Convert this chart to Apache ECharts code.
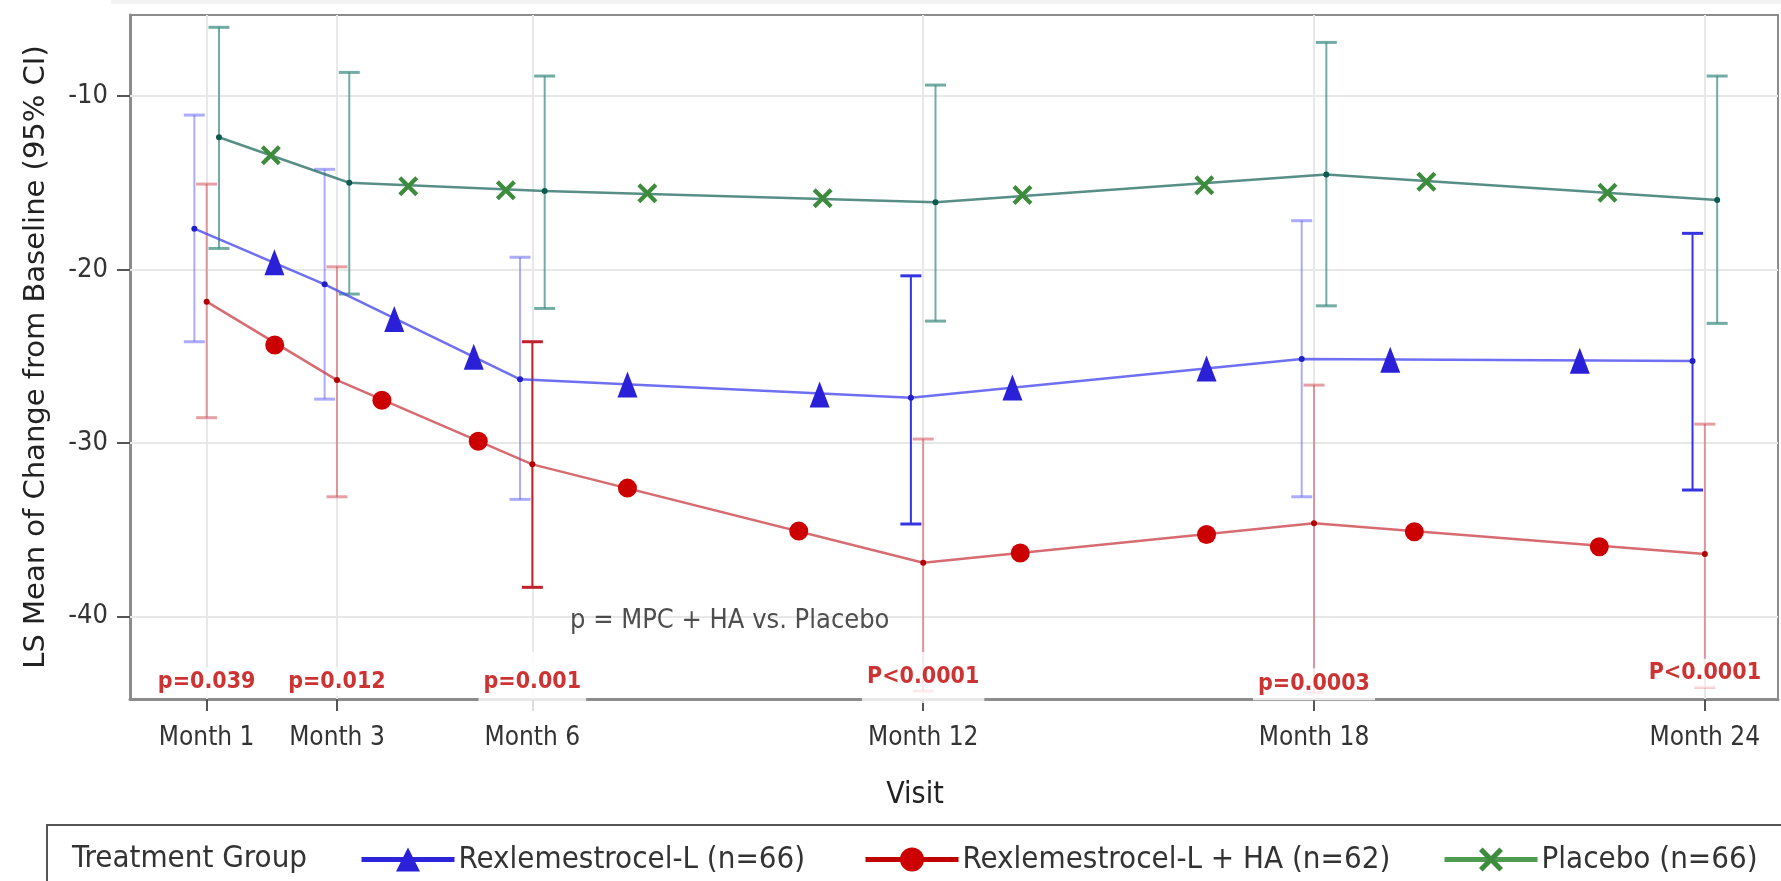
<!DOCTYPE html>
<html><head><meta charset="utf-8">
<script src="https://cdn.jsdelivr.net/npm/echarts@6/dist/echarts.min.js"></script>
<style>html,body{margin:0;padding:0;background:#fff;}#c{width:1781px;height:881px;}</style>
</head><body><div id="c"></div>
<script>
// ---------------- DATA ----------------
const visitLabels = ['Month 1', 'Month 3', 'Month 6', 'Month 12', 'Month 18', 'Month 24'];
const visitMonths = [1, 3, 6, 12, 18, 24];
const yTickValues = [-40, -30, -20, -10];

const rexName = 'Rexlemestrocel-L (n=66)';
const rexMean  = [-17.64, -20.85, -26.33, -27.39, -25.16, -25.27];
const rexLower = [-24.16, -27.47, -33.25, -34.67, -33.10, -32.71];
const rexUpper = [-11.09, -14.22, -19.29, -20.36, -17.18, -17.91];

const haName = 'Rexlemestrocel-L + HA (n=62)';
const haMean  = [-21.85, -26.37, -31.23, -36.90, -34.63, -36.40];
const haLower = [-28.54, -33.10, -38.32, -44.30, -44.40, -44.07];
const haUpper = [-15.07, -19.84, -24.16, -29.77, -26.66, -28.91];

const pboName = 'Placebo (n=66)';
const pboMean  = [-12.37, -14.99, -15.47, -16.12, -14.51, -15.99];
const pboLower = [-18.78, -21.41, -22.24, -22.97, -22.09, -23.10];
const pboUpper = [-6.03, -8.63, -8.84, -9.36, -6.90, -8.84];

// big markers drawn along each line (positions)
const rexMarkX = [2.04, 3.88, 5.10, 7.46, 10.41, 13.37, 16.35, 19.17, 22.08];
const rexMarkY = [-19.58, -22.85, -25.03, -26.63, -27.2, -26.8, -25.7, -25.2, -25.25];
const haMarkX = [2.045, 3.69, 5.17, 7.46, 10.09, 13.49, 16.35, 19.54, 22.38];
const haMarkY = [-24.35, -27.53, -29.9, -32.6, -35.08, -36.34, -35.28, -35.12, -35.98];
const pboMarkX = [1.985, 4.095, 5.593, 7.765, 10.457, 13.524, 16.315, 19.725, 22.505];
const pboMarkY = [-13.40, -15.2, -15.42, -15.6, -15.89, -15.7, -15.13, -14.94, -15.57];

// p-values (MPC + HA vs. Placebo) shown at each visit
const pValueText = ['p=0.039', 'p=0.012', 'p=0.001', 'P<0.0001', 'p=0.0003', 'P<0.0001'];
const pValueAnchorY = [-43.80, -43.76, -43.76, -43.52, -43.91, -43.27];
const noteText = 'p = MPC + HA vs. Placebo';
const noteAnchor = [9.03, -40.25];

const axisTitleX = 'Visit';
const axisTitleY = 'LS Mean of Change from Baseline (95% CI)';
const legendTitle = 'Treatment Group';

// ---------------- STYLE ----------------
const FONT = "'DejaVu Sans Condensed', 'DejaVu Sans', sans-serif";
const DODGE = 0.189;
const BLUE = {line: 'rgba(70,70,240,0.78)', dot: '#2020c8', mark: '#2a20d8', barLight: 'rgba(90,90,245,0.5)', barDark: '#3535e0', legend: '#2b24d9'};
const RED = {line: 'rgba(200,50,60,0.72)', dot: '#b00000', mark: '#cc0000', barLight: 'rgba(210,80,90,0.55)', barDark: '#c0202a', legend: '#c00000'};
const GREEN = {line: 'rgba(40,110,100,0.78)', dot: '#0d5a50', mark: '#3d8b3d', barLight: 'rgba(60,140,130,0.72)', barDark: 'rgba(60,140,130,0.72)', legend: '#4f9b4f'};
const rexDarkBars = [3, 5];
const haDarkBars = [2];
const pboDarkBars = [];
const pLabelPadTop = [4, 3, 33, 25, 6, 3];
const X_SYMBOL = 'path://M3,0 L10,7 L17,0 L20,3 L13,10 L20,17 L17,20 L10,13 L3,20 L0,17 L7,10 L0,3 Z';

function errorBars(name, xs, lows, highs, pal, darkIdx) {
  return {
    type: 'custom', name: name + ' CI', silent: true, z: 3,
    encode: {x: 0, y: [1, 2]},
    data: xs.map((x, i) => [x, lows[i], highs[i], i]),
    renderItem: (params, api) => {
      const x = api.value(0);
      const lo = api.coord([x, api.value(1)]);
      const hi = api.coord([x, api.value(2)]);
      const c = darkIdx.indexOf(api.value(3)) >= 0 ? pal.barDark : pal.barLight;
      const half = 10.5;
      return {type: 'group', children: [
        {type: 'line', shape: {x1: lo[0], y1: hi[1], x2: lo[0], y2: lo[1]}, style: {stroke: c, lineWidth: 2}},
        {type: 'line', shape: {x1: lo[0] - half, y1: hi[1], x2: lo[0] + half, y2: hi[1]}, style: {stroke: c, lineWidth: 3}},
        {type: 'line', shape: {x1: lo[0] - half, y1: lo[1], x2: lo[0] + half, y2: lo[1]}, style: {stroke: c, lineWidth: 3}}
      ]};
    }
  };
}
function meanLine(name, xs, ys, pal) {
  return {
    type: 'line', name: name + ' mean', silent: true, z: 4,
    data: xs.map((x, i) => [x, ys[i]]),
    symbol: 'circle', symbolSize: 6,
    itemStyle: {color: pal.dot},
    lineStyle: {color: pal.line, width: 2.5}
  };
}
function markers(name, xs, ys, sym, size, pal) {
  return {
    type: 'scatter', name: name + ' markers', silent: true, z: 5,
    data: xs.map((x, i) => [x, ys[i]]),
    symbol: sym, symbolSize: size, itemStyle: {color: pal.mark, opacity: 1}
  };
}
function legendDummy(name, sym, pal) {
  return {
    type: 'line', name: name, data: [], symbol: sym, symbolSize: 20,
    itemStyle: {color: pal.mark}, lineStyle: {color: pal.legend, width: 5}
  };
}
function legendAt(name, left) {
  return {
    data: [name], left: left, top: 844, padding: 0, itemWidth: 93, itemHeight: 30,
    selectedMode: false, itemGap: 0,
    lineStyle: {width: 5},
    textStyle: {fontFamily: FONT, fontSize: 31, color: '#333', padding: [0, 0, 0, -1]}
  };
}

const chart = echarts.init(document.getElementById('c'), null, {renderer: 'canvas'});
chart.setOption({
  animation: false,
  backgroundColor: '#fff',
  grid: {left: 130, right: 3, top: 15, bottom: 182, show: true, borderColor: '#8c8c8c', borderWidth: 2, outerBoundsMode: 'none', containLabel: false},
  xAxis: {
    type: 'value', min: -0.177, max: 25.123,
    name: axisTitleX, nameLocation: 'middle', nameGap: 81,
    nameTextStyle: {fontFamily: FONT, fontSize: 30, color: '#222', padding: [0, 78, 0, 0]},
    axisLine: {show: true, onZero: false, lineStyle: {color: '#8c8c8c', width: 3}},
    axisTick: {show: true, length: 12, customValues: visitMonths, lineStyle: {color: '#555', width: 2}},
    axisLabel: {customValues: visitMonths, margin: 26, fontFamily: FONT, fontSize: 26, color: '#333',
      formatter: v => visitLabels[visitMonths.indexOf(v)] || ''},
    splitLine: {show: false}
  },
  yAxis: {
    type: 'value', min: -44.76, max: -5.32,
    name: axisTitleY, nameLocation: 'middle', nameGap: 79, nameRotate: 90,
    nameTextStyle: {fontFamily: "'DejaVu Sans', sans-serif", fontSize: 29, color: '#222'},
    axisLine: {show: true, onZero: false, lineStyle: {color: '#8c8c8c', width: 3}},
    axisTick: {show: true, length: 13, customValues: yTickValues, lineStyle: {color: '#555', width: 2}},
    axisLabel: {customValues: yTickValues, margin: 22, fontFamily: FONT, fontSize: 27, color: '#333'},
    splitLine: {show: false}
  },
  legend: [legendAt(rexName, 359), legendAt(haName, 863), legendAt(pboName, 1442)],
  graphic: [
    {type: 'rect', shape: {x: 111, y: 0, width: 1670, height: 4}, style: {fill: '#f3f3f3'}, silent: true},
    {type: 'rect', shape: {x: 47, y: 825, width: 1760, height: 100}, style: {fill: 'none', stroke: '#555', lineWidth: 2}, silent: true},
    {type: 'text', x: 72, y: 859, style: {text: legendTitle, fontFamily: FONT, fontSize: 31, fill: '#333', verticalAlign: 'middle', align: 'left'}, silent: true}
  ],
  series: [
    {type: 'line', name: 'grid', data: [], silent: true, z: 1,
      markLine: {silent: true, z: 1, symbol: ['none', 'none'], label: {show: false}, animation: false,
        lineStyle: {color: '#e8e8e8', width: 2, type: 'solid'},
        data: yTickValues.map(v => ({yAxis: v})).concat(visitMonths.map(m => ({xAxis: m})))}},
    errorBars(rexName, visitMonths.map(m => m - DODGE), rexLower, rexUpper, BLUE, rexDarkBars),
    errorBars(haName, visitMonths, haLower, haUpper, RED, haDarkBars),
    errorBars(pboName, visitMonths.map(m => m + DODGE), pboLower, pboUpper, GREEN, pboDarkBars),
    meanLine(rexName, visitMonths.map(m => m - DODGE), rexMean, BLUE),
    meanLine(haName, visitMonths, haMean, RED),
    meanLine(pboName, visitMonths.map(m => m + DODGE), pboMean, GREEN),
    markers(rexName, rexMarkX, rexMarkY, 'triangle', [20, 26], BLUE),
    markers(haName, haMarkX, haMarkY, 'circle', 19, RED),
    markers(pboName, pboMarkX, pboMarkY, X_SYMBOL, 20, GREEN),
    legendDummy(rexName, 'triangle', BLUE),
    legendDummy(haName, 'circle', RED),
    legendDummy(pboName, X_SYMBOL, GREEN),
    {type: 'scatter', name: 'p-values', silent: true, z: 10, symbolSize: 0,
      data: visitMonths.map((m, i) => ({value: [m, pValueAnchorY[i]], name: pValueText[i],
        label: {padding: [pLabelPadTop[i], 5, 0, 5]}})),
      label: {show: true, position: 'inside', formatter: p => p.name, fontFamily: FONT, fontWeight: 'bold',
        fontSize: 23, lineHeight: 26, color: '#c00000', backgroundColor: '#fff'}},
    {type: 'scatter', name: 'note', silent: true, z: 9, symbolSize: 0,
      data: [{value: noteAnchor, name: noteText}],
      label: {show: true, position: 'inside', formatter: p => p.name, fontFamily: FONT,
        fontSize: 27, lineHeight: 32, color: '#222'}}
  ]
});
</script></body></html>
